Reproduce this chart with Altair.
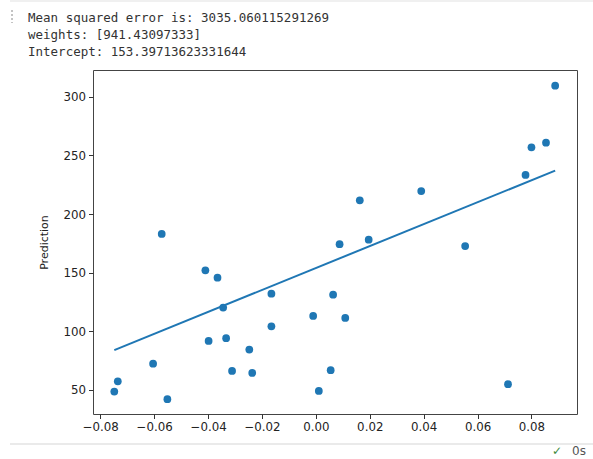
import altair as alt
import pandas as pd

# ---- data ----
x_test = [-0.0748, -0.0735, -0.0604, -0.0572, -0.0551, -0.0410, -0.0398, -0.0365,
          -0.0344, -0.0333, -0.0311, -0.0247, -0.0236, -0.0165, -0.0165, -0.0010,
          0.0011, 0.0055, 0.0064, 0.0088, 0.0109, 0.0163, 0.0196, 0.0391,
          0.0554, 0.0713, 0.0778, 0.0800, 0.0854, 0.0888]
y_test = [48.6, 57.4, 72.4, 183.0, 42.1, 152.0, 91.8, 145.7,
          120.2, 94.1, 66.2, 84.4, 64.5, 132.1, 104.3, 113.1,
          49.2, 66.9, 131.2, 174.3, 111.4, 211.7, 178.1, 219.6,
          172.7, 54.9, 233.3, 256.9, 260.8, 309.4]
line_x = [-0.0748, 0.0888]
line_y = [84.0, 237.0]
output_lines = ["Mean squared error is: 3035.060115291269",
                "weights: [941.43097333]",
                "Intercept: 153.39713623331644"]
x_ticks = [-0.08, -0.06, -0.04, -0.02, 0.00, 0.02, 0.04, 0.06, 0.08]
y_ticks = [50, 100, 150, 200, 250, 300]
y_title = "Prediction"

blue = "#1f77b4"
pts = pd.DataFrame({"x": x_test, "y": y_test})
ln = pd.DataFrame({"x": line_x, "y": line_y})

xscale = alt.Scale(domain=[-0.0827, 0.0969], nice=False, zero=False)
yscale = alt.Scale(domain=[29.5, 322.8], nice=False, zero=False)

common = dict(grid=False, domain=False, tickSize=4.5, tickColor="#333", tickWidth=1,
              labelFont="DejaVu Sans", labelFontSize=11.8, labelColor="#222222")
xaxis = alt.Axis(values=x_ticks, format=".2f", title=None, labelPadding=3, **common)
yaxis = alt.Axis(values=y_ticks, format="d", title=y_title, labelPadding=3,
                 titleX=-49, titleY=172, titleAngle=270, titleAlign="center",
                 titleBaseline="middle", titleFont="DejaVu Sans", titleFontSize=11,
                 titleFontWeight="normal", titleColor="#222222", **common)

scatter = alt.Chart(pts).mark_circle(size=60, color=blue, opacity=1).encode(
    x=alt.X("x:Q", scale=xscale, axis=xaxis),
    y=alt.Y("y:Q", scale=yscale, axis=yaxis),
)
reg = alt.Chart(ln).mark_line(color=blue, strokeWidth=2).encode(x="x:Q", y="y:Q")


def txt(s, x, y, font="DejaVu Sans Mono", size=12.5, color="#333333"):
    return alt.Chart(pd.DataFrame({"t": [s]})).mark_text(
        align="left", baseline="alphabetic", font=font, fontSize=size, color=color
    ).encode(x=alt.value(x), y=alt.value(y), text="t:N")


def rule(x1, x2, y1, y2, color, width, dash=None):
    kw = dict(color=color, strokeWidth=width)
    if dash:
        kw["strokeDash"] = dash
    return alt.Chart(pd.DataFrame({"a": [0]})).mark_rule(**kw).encode(
        x=alt.value(x1), x2=alt.value(x2), y=alt.value(y1), y2=alt.value(y2))


texts = [txt(s, -65, -48 + 17 * i) for i, s in enumerate(output_lines)]
extras = [
    rule(-83, 500, -69, -69, "#f0f0f0", 2),
    rule(-81, -81, -60, -47, "#888888", 1, [2, 2]),
    rule(-83, 500, 374, 374, "#e3e3e3", 1.5),
    txt("\u2713", 459, 385, font="DejaVu Sans", size=12, color="#3c8a3c"),
    txt("0s", 479, 385, font="DejaVu Sans", size=12, color="#555555"),
]

chart = alt.layer(scatter, reg, *texts, *extras).properties(
    width=484, height=344,
    padding={"left": 93, "top": 70, "right": 16, "bottom": 45},
    autosize=alt.AutoSizeParams(type="none"),
    background="white",
).configure_view(stroke="#444444", strokeWidth=1)

chart.save("out.html", embed_options={"renderer": "svg", "actions": False})
